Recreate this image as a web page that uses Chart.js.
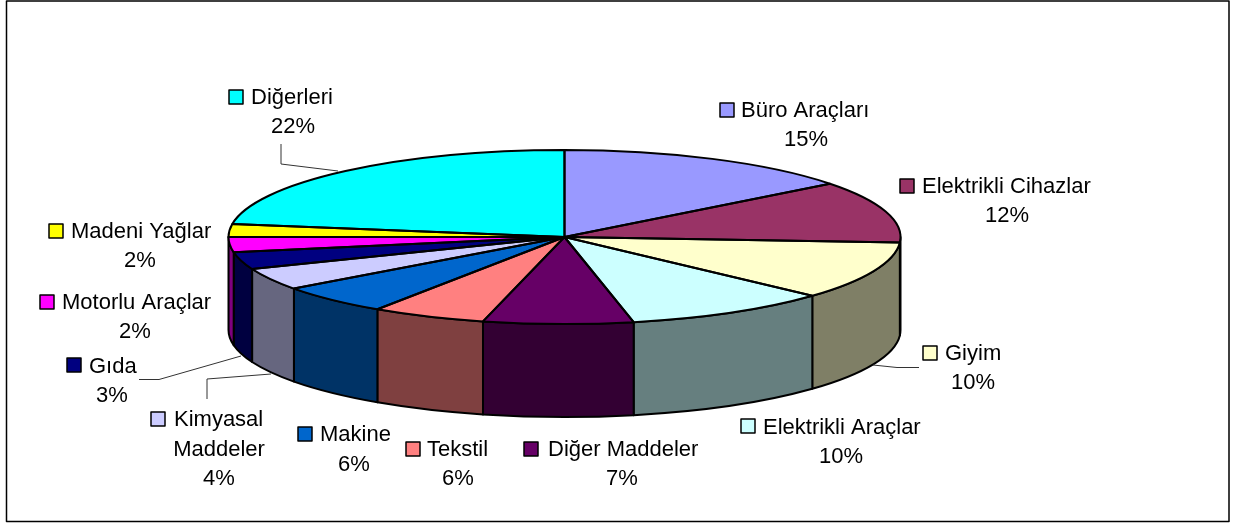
<!DOCTYPE html>
<html lang="tr">
<head>
<meta charset="utf-8">
<style>html,body{margin:0;padding:0;background:#fff}canvas{display:block}</style>
<script src="https://cdn.jsdelivr.net/npm/chart.js@4"></script>
</head>
<body>
<canvas id="c" width="1235" height="523"></canvas>
<script>
const categories = ["Büro Araçları","Elektrikli Cihazlar","Giyim","Elektrikli Araçlar","Diğer Maddeler","Tekstil","Makine","Kimyasal Maddeler","Gıda","Motorlu Araçlar","Madeni Yağlar","Diğerleri"];
const shares = [14.5,11.5,10.8,9.9,7.2,5.5,5.5,4.1,3.2,2.8,2.4,22.6];
const percentLabels = ["15%","12%","10%","10%","7%","6%","6%","4%","3%","2%","2%","22%"];
const colors = ["#9999FF","#993366","#FFFFCC","#CCFFFF","#660066","#FF8080","#0066CC","#CCCCFF","#000080","#FF00FF","#FFFF00","#00FFFF"];

// label layout: key box, first-line left, line centre and baselines middle
const labelLayout = [
  {kx:720,ky:103,tx:741,ty:111,cx:806,py:140},
  {kx:900,ky:179,tx:922,ty:187,cx:1007,py:216},
  {kx:923,ky:346,tx:945,ty:354,cx:973,py:383},
  {kx:741,ky:419,tx:763,ty:428,cx:841,py:457},
  {kx:524,ky:442,tx:548,ty:450,cx:622,py:479},
  {kx:406,ky:442,tx:427,ty:450,cx:458,py:479},
  {kx:298,ky:427,tx:320,ty:435,cx:354,py:465},
  {kx:151,ky:412,tx:174,ty:420,cx:219,py:479,extra:{y:450}},
  {kx:67,ky:358,tx:89,ty:367,cx:112,py:396},
  {kx:40,ky:295,tx:62,ty:303,cx:135,py:332},
  {kx:49,ky:224,tx:71,ty:232,cx:140,py:261},
  {kx:229,ky:90,tx:251,ty:98,cx:293,py:127}
];
const leaders = [
  [[281,144],[281,164],[338,171]],
  [[919,367.5],[897,367.5],[873,365]],
  [[139,379.5],[159,379.5],[241,356]],
  [[207,399],[207,379],[271,374]]
];
const squash = 336/87, depth = 93;

function halve(hex){
  const n = parseInt(hex.slice(1),16);
  const f = s => ((n>>s)&255)>>1;
  return `rgb(${f(16)},${f(8)},${f(0)})`;
}

const pie3d = {
  id:'pie3d',
  beforeDatasetsDraw(chart){
    const ctx = chart.ctx, arcs = chart.getDatasetMeta(0).data;
    arcs.forEach((arc,i)=>{
      const {x,y,startAngle,endAngle,outerRadius:r} = arc;
      const a0 = Math.max(startAngle,0), a1 = Math.min(endAngle,Math.PI);
      if(a1<=a0) return;
      ctx.beginPath();
      ctx.ellipse(x,y,r*squash,r,0,a0,a1);
      ctx.ellipse(x,y+depth,r*squash,r,0,a1,a0,true);
      ctx.closePath();
      ctx.fillStyle = halve(colors[i]);
      ctx.strokeStyle = '#000';
      ctx.lineWidth = 2;
      ctx.lineJoin = 'round';
      ctx.fill();
      ctx.stroke();
    });
    const a = arcs[0];
    ctx.save();
    ctx.translate(a.x,a.y);
    ctx.scale(squash,1);
    ctx.translate(-a.x,-a.y);
  },
  afterDatasetsDraw(chart){
    const ctx = chart.ctx, arcs = chart.getDatasetMeta(0).data;
    ctx.restore();
    ctx.strokeStyle = '#000';
    ctx.lineWidth = 2;
    ctx.lineJoin = 'round';
    arcs.forEach(arc=>{
      const {x,y,startAngle,endAngle,outerRadius:r} = arc;
      ctx.beginPath();
      ctx.moveTo(x,y);
      ctx.ellipse(x,y,r*squash,r,0,startAngle,endAngle);
      ctx.closePath();
      ctx.stroke();
    });
  },
  afterDraw(chart){
    const ctx = chart.ctx;
    ctx.save();
    ctx.strokeStyle = '#000';
    ctx.lineWidth = 1.5;
    ctx.strokeRect(6.5,1,1222.5,520.5);
    ctx.strokeStyle = '#333';
    ctx.lineWidth = 1;
    leaders.forEach(l=>{
      ctx.beginPath();
      l.forEach(([x,y],i)=> i?ctx.lineTo(x,y):ctx.moveTo(x,y));
      ctx.stroke();
    });
    ctx.font = '22px "Liberation Sans", Arial, sans-serif';
    ctx.textBaseline = 'middle';
    labelLayout.forEach((p,i)=>{
      ctx.fillStyle = colors[i];
      ctx.strokeStyle = '#000';
      ctx.lineWidth = 1.5;
      ctx.fillRect(p.kx,p.ky,14,14);
      ctx.strokeRect(p.kx,p.ky,14,14);
      ctx.fillStyle = '#000';
      ctx.textAlign = 'left';
      const words = categories[i];
      if(p.extra){
        const sp = words.split(' ');
        ctx.fillText(sp[0],p.tx,p.ty);
        ctx.textAlign = 'center';
        ctx.fillText(sp[1],p.cx,p.extra.y);
      } else {
        ctx.fillText(words,p.tx,p.ty);
      }
      ctx.textAlign = 'center';
      ctx.fillText(percentLabels[i],p.cx,p.py);
    });
    ctx.restore();
  }
};

new Chart(document.getElementById('c'),{
  type:'pie',
  data:{labels:categories,datasets:[{data:shares,backgroundColor:colors,borderWidth:0,clip:false}]},
  options:{
    responsive:false,
    animation:false,
    layout:{padding:{top:150,bottom:199,left:0,right:106}},
    plugins:{legend:{display:false},tooltip:{enabled:false}}
  },
  plugins:[pie3d]
});
</script>
</body>
</html>
